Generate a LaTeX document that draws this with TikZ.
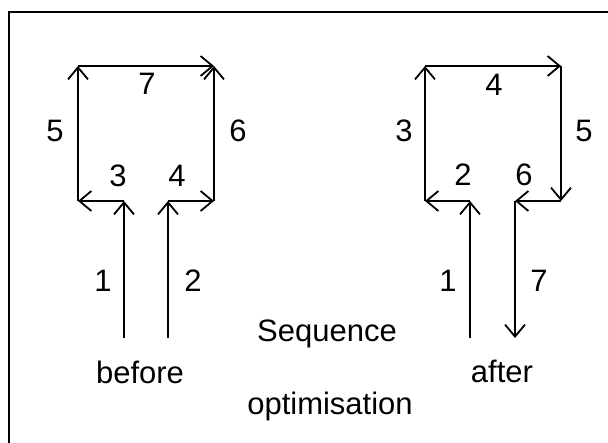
\documentclass[tikz,border=0pt]{standalone}
\usepackage{fontspec}
\setmainfont{Liberation Sans}
\usetikzlibrary{arrows.meta}
\begin{document}
\begin{tikzpicture}[x=1pt,y=-1pt,
  seg/.style={line width=1.8pt,-{Straight Barb[length=12pt,width=20pt,line width=1.8pt]}},
  lbl/.style={font=\fontsize{31}{36}\selectfont,inner sep=0pt,anchor=base},
  frame/.style={line width=1.8pt}]
\useasboundingbox (0,0) rectangle (608,443);
\draw[frame] (9,443) -- (9,12) -- (608,12);
% before
\coordinate (b1s) at (124,338);
\coordinate (b1e) at (124,201);
\coordinate (b2s) at (168,338);
\coordinate (b2e) at (168,201);
\coordinate (bbl) at (78,201);
\coordinate (btl) at (78,66);
\coordinate (btr) at (214,66);
\coordinate (bbr) at (214,201);
\draw[seg] (b1s) -- (b1e);
\draw[seg] (b1e) -- (bbl);
\draw[seg] (bbl) -- (btl);
\draw[seg] (btl) -- (btr);
\draw[seg] (b2s) -- (b2e);
\draw[seg] (b2e) -- (bbr);
\draw[seg] (bbr) -- (btr);
\node[lbl] (bl1) at (103,292) {1};
\node[lbl] (bl2) at (193,292) {2};
\node[lbl] (bl3) at (118,187) {3};
\node[lbl] (bl4) at (177,187) {4};
\node[lbl] (bl5) at (55,142) {5};
\node[lbl] (bl6) at (238,142) {6};
\node[lbl] (bl7) at (147,95) {7};
\node[lbl] (before) at (140,384) {before};
% after
\coordinate (a1s) at (470,338);
\coordinate (a1e) at (470,201);
\coordinate (abl) at (425,201);
\coordinate (atl) at (425,66);
\coordinate (atr) at (561,66);
\coordinate (abr) at (561,201);
\coordinate (a6e) at (515,201);
\coordinate (a7e) at (515,338);
\draw[seg] (a1s) -- (a1e);
\draw[seg] (a1e) -- (abl);
\draw[seg] (abl) -- (atl);
\draw[seg] (atl) -- (atr);
\draw[seg] (atr) -- (abr);
\draw[seg] (abr) -- (a6e);
\draw[seg] (a6e) -- (a7e);
\node[lbl] (al1) at (448,292) {1};
\node[lbl] (al2) at (463,186) {2};
\node[lbl] (al3) at (404,142) {3};
\node[lbl] (al4) at (494,96) {4};
\node[lbl] (al5) at (584,142) {5};
\node[lbl] (al6) at (524,186) {6};
\node[lbl] (al7) at (539,292) {7};
\node[lbl] (after) at (502,383) {after};
\node[lbl] (seq) at (327,342) {Sequence};
\node[lbl] (opt) at (330,415) {optimisation};
\end{tikzpicture}
\end{document}
